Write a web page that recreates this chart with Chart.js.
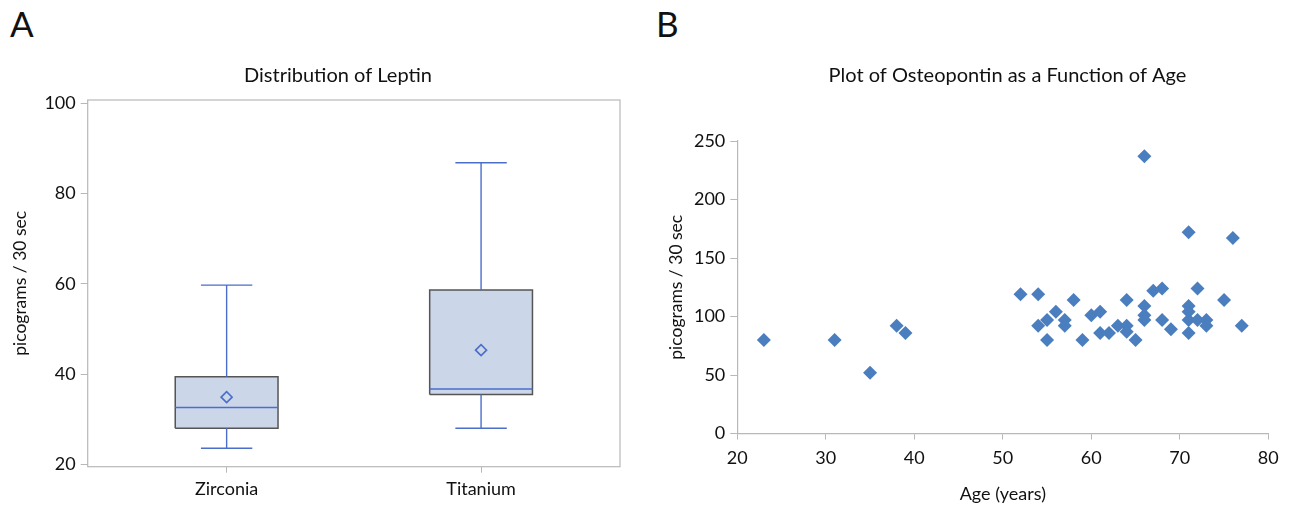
<!DOCTYPE html>
<html>
<head>
<meta charset="utf-8">
<script src="https://cdn.jsdelivr.net/npm/chart.js@4.4.0/dist/chart.umd.min.js"></script>
<style>
  html, body { margin: 0; padding: 0; background: #fff; overflow: hidden; }
  body { width: 1293px; height: 506px; position: relative; font-family: Lato, "Open Sans", sans-serif; }
  canvas { position: absolute; top: 0; }
  #chartA { left: 0; }
  #chartB { left: 650px; }
  .panel { position: absolute; font-size: 35px; line-height: 1; color: #111; }
</style>
</head>
<body>
<div class="panel" style="left:10px; top:6px;">A</div>
<div class="panel" style="left:656px; top:6px;">B</div>
<canvas id="chartA" width="676" height="506"></canvas>
<canvas id="chartB" width="715" height="506"></canvas>
<script>
// Panel A: leptin box plot summary values
const groups = ['Zirconia', 'Titanium'];
const leptinMin = [23.6, 28.0];
const leptinQ1 = [28.0, 35.5];
const leptinMedian = [32.6, 36.7];
const leptinQ3 = [39.4, 58.6];
const leptinMax = [59.7, 86.8];
const leptinMean = [34.9, 45.3];
const leptinTicks = [20, 40, 60, 80, 100];

// Panel B: osteopontin vs age
const ages = [23, 31, 35, 38, 39, 52, 54, 54, 55, 55, 56, 57, 57, 58, 59, 60, 61, 61, 62, 63, 64, 64, 64, 65,
  66, 66, 66, 66, 67, 68, 68, 69, 71, 71, 71, 71, 71, 72, 72, 73, 73, 75, 76, 77];
const osteopontin = [80, 80, 52, 92, 86, 119, 119, 92, 97, 80, 104, 97, 92, 114, 80, 101, 104, 86, 86, 92, 114, 92, 87, 80,
  237, 109, 101, 97, 122, 124, 97, 89, 172, 109, 104, 97, 86, 124, 97, 97, 92, 114, 167, 92];
const ageTicks = [20, 30, 40, 50, 60, 70, 80];
const osteoTicks = [0, 50, 100, 150, 200, 250];

const FONT = 'Lato, "Open Sans", sans-serif';
const BLUE = '#4b6ecb';
const BOX_FILL = '#cbd6e8';
const BOX_EDGE = '#555555';
const AXIS = '#b8b8b8';
const BOX_HALF = 0.202;
const CAP_HALF = 0.101;

// box outlines, whiskers and medians built from the summary arrays
const boxPoints = [];
const whiskerPoints = [];
const medianPoints = [];
groups.forEach((g, i) => {
  boxPoints.push({x: i - BOX_HALF, y: leptinQ1[i]}, {x: i + BOX_HALF, y: leptinQ1[i]},
    {x: i + BOX_HALF, y: leptinQ3[i]}, {x: i - BOX_HALF, y: leptinQ3[i]},
    {x: i - BOX_HALF, y: leptinQ1[i]}, {x: i, y: null});
  whiskerPoints.push({x: i, y: leptinQ3[i]}, {x: i, y: leptinMax[i]}, {x: i, y: null},
    {x: i - CAP_HALF, y: leptinMax[i]}, {x: i + CAP_HALF, y: leptinMax[i]}, {x: i, y: null},
    {x: i, y: leptinQ1[i]}, {x: i, y: leptinMin[i]}, {x: i, y: null},
    {x: i - CAP_HALF, y: leptinMin[i]}, {x: i + CAP_HALF, y: leptinMin[i]}, {x: i, y: null});
  medianPoints.push({x: i - BOX_HALF, y: leptinMedian[i]}, {x: i + BOX_HALF, y: leptinMedian[i]}, {x: i, y: null});
});

const framePlugin = {
  id: 'frame',
  beforeDatasetsDraw(chart) {
    const a = chart.chartArea;
    const ctx = chart.ctx;
    ctx.save();
    ctx.strokeStyle = AXIS;
    ctx.lineWidth = 1.2;
    ctx.strokeRect(a.left, a.top, a.right - a.left, a.bottom - a.top);
    ctx.restore();
  }
};

new Chart(document.getElementById('chartA'), {
  type: 'scatter',
  data: {
    datasets: [
      {
        data: groups.map((g, i) => ({x: i, y: leptinMean[i]})),
        pointStyle: 'rectRot', pointRadius: 5.5, pointBorderWidth: 1.6,
        pointBorderColor: BLUE, pointBackgroundColor: 'rgba(0,0,0,0)', showLine: false
      },
      {
        data: medianPoints, showLine: true, borderColor: BLUE, borderWidth: 1.6,
        pointRadius: 0, spanGaps: false
      },
      {
        data: whiskerPoints, showLine: true, borderColor: BLUE, borderWidth: 1.4,
        pointRadius: 0, spanGaps: false
      },
      {
        data: boxPoints, showLine: true, borderColor: BOX_EDGE, borderWidth: 1.5,
        backgroundColor: BOX_FILL, fill: 'shape', pointRadius: 0, spanGaps: false
      }
    ]
  },
  options: {
    responsive: false,
    animation: false,
    layout: {padding: 0},
    plugins: {
      legend: {display: false},
      tooltip: {enabled: false},
      title: {
        display: true, text: 'Distribution of Leptin', color: '#111',
        font: {family: FONT, size: 20, weight: 'normal'},
        padding: {top: 64, bottom: 12}
      }
    },
    scales: {
      x: {
        type: 'linear', min: -0.546, max: 1.546,
        afterBuildTicks: axis => { axis.ticks = groups.map((g, i) => ({value: i})); },
        afterFit: axis => { axis.height = 39.3; },
        ticks: {callback: v => groups[v], color: '#111', padding: 6, font: {family: FONT, size: 18}},
        grid: {drawOnChartArea: false, color: AXIS, tickLength: 6},
        border: {display: false}
      },
      y: {
        min: 19.5, max: 100.7,
        afterBuildTicks: axis => { axis.ticks = leptinTicks.map(v => ({value: v})); },
        afterFit: axis => { axis.width = 87.7; },
        ticks: {color: '#111', padding: 5, font: {family: FONT, size: 18}},
        grid: {drawOnChartArea: false, color: AXIS, tickLength: 7},
        border: {display: false},
        title: {display: true, text: 'picograms / 30 sec', color: '#111',
          font: {family: FONT, size: 17.5}, padding: {top: 10, bottom: 0}}
      },
      yr: {
        position: 'right', display: true,
        afterFit: axis => { axis.width = 56; },
        ticks: {display: false}, grid: {display: false}, border: {display: false}
      }
    }
  },
  plugins: [framePlugin]
});

new Chart(document.getElementById('chartB'), {
  type: 'scatter',
  data: {
    datasets: [{
      data: ages.map((a, i) => ({x: a, y: osteopontin[i]})),
      pointStyle: 'rectRot', pointRadius: 7, pointBorderWidth: 0,
      pointBackgroundColor: '#4a7ebf', pointBorderColor: '#4a7ebf'
    }]
  },
  options: {
    responsive: false,
    animation: false,
    layout: {padding: 0},
    plugins: {
      legend: {display: false},
      tooltip: {enabled: false},
      title: {
        display: true, text: 'Plot of Osteopontin as a Function of Age', color: '#111',
        font: {family: FONT, size: 20, weight: 'normal'},
        padding: {top: 64, bottom: 53}
      }
    },
    scales: {
      x: {
        type: 'linear', min: 20, max: 80,
        afterBuildTicks: axis => { axis.ticks = ageTicks.map(v => ({value: v})); },
        afterFit: axis => { axis.height = 72.5; },
        ticks: {color: '#111', padding: 8, font: {family: FONT, size: 18}},
        grid: {drawOnChartArea: false, color: AXIS, tickLength: 6},
        border: {display: true, color: AXIS, width: 1.2},
        title: {display: true, text: 'Age (years)', color: '#111',
          font: {family: FONT, size: 18}, padding: {top: 0, bottom: 1}}
      },
      y: {
        min: 0, max: 250,
        afterBuildTicks: axis => { axis.ticks = osteoTicks.map(v => ({value: v})); },
        afterFit: axis => { axis.width = 87.3; },
        ticks: {color: '#111', padding: 5, font: {family: FONT, size: 18}},
        grid: {drawOnChartArea: false, color: AXIS, tickLength: 7},
        border: {display: true, color: AXIS, width: 1.2},
        title: {display: true, text: 'picograms / 30 sec', color: '#111',
          font: {family: FONT, size: 17.5}, padding: {top: 16, bottom: 0}}
      },
      yr: {
        position: 'right', display: true,
        afterFit: axis => { axis.width = 96.7; },
        ticks: {display: false}, grid: {display: false}, border: {display: false}
      }
    }
  }
});
</script>
</body>
</html>
